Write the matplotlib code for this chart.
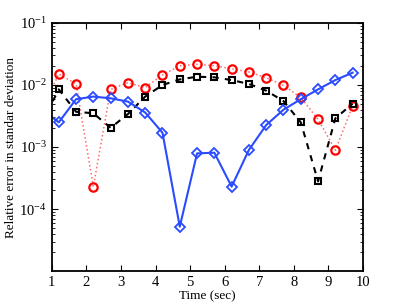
import numpy as np
import matplotlib
matplotlib.use("Agg")
import matplotlib.pyplot as plt

# data
time_sec = [0.7, 1.2, 1.7, 2.2, 2.7, 3.2, 3.7, 4.2, 4.7, 5.2,
            5.7, 6.2, 6.7, 7.2, 7.7, 8.2, 8.7, 9.2, 9.7]
err_blue = [4.1e-3, 2.5e-3, 5.9e-3, 6.5e-3, 6.1e-3, 5.4e-3, 3.6e-3, 1.7e-3, 5.2e-5, 7.9e-4,
            8.1e-4, 2.3e-4, 9.0e-4, 2.26e-3, 4.0e-3, 5.9e-3, 8.5e-3, 1.2e-2, 1.58e-2]
err_red = [4.0e-3, 1.5e-2, 1.04e-2, 2.3e-4, 8.5e-3, 1.09e-2, 9.1e-3, 1.45e-2, 2.04e-2, 2.15e-2,
           2.04e-2, 1.83e-2, 1.62e-2, 1.31e-2, 9.9e-3, 6.3e-3, 2.8e-3, 8.9e-4, 4.6e-3]
err_black = [2.4e-3, 8.5e-3, 3.7e-3, 3.5e-3, 2.04e-3, 3.4e-3, 6.5e-3, 1.0e-2, 1.23e-2, 1.36e-2,
             1.33e-2, 1.2e-2, 1.04e-2, 8.1e-3, 5.5e-3, 2.5e-3, 2.8e-4, 2.9e-3, 5.0e-3]
x_ticks = list(range(1, 11))

plt.rcParams['font.family'] = ['Liberation Serif', 'DejaVu Serif']
plt.rcParams['mathtext.fontset'] = 'stix'

fig = plt.figure(figsize=(4.02, 3.06), dpi=100)
ax = fig.add_axes([0.129, 0.114, 0.774, 0.811])

ax.plot(time_sec, err_red, color='#ff6a6a', linestyle=':', linewidth=1.1,
        marker='o', markersize=6, markerfacecolor='none', markeredgecolor='red',
        markeredgewidth=1.6)
ax.plot(time_sec, err_black, color='black', linestyle='--', linewidth=1.5, dashes=(3, 3),
        marker='s', markersize=5, markerfacecolor='none', markeredgewidth=1.5)
ax.plot(time_sec, err_blue, color='#2a4bff', linestyle='-', linewidth=1.5,
        marker='D', markersize=5, markerfacecolor='none', markeredgewidth=1.3)

ax.set_yscale('log')
ax.set_xlim(1, 10)
ax.set_ylim(1e-5, 1e-1)
ax.set_xticks(x_ticks)
ax.set_yticks([1e-4, 1e-3, 1e-2, 1e-1])
ax.tick_params(which='both', direction='in', top=True, right=True, labelsize=10.5)
ax.tick_params(which='major', length=4)
ax.tick_params(which='minor', length=2)
for s in ax.spines.values():
    s.set_linewidth(1.3)

ax.set_xlabel("Time (sec)", fontsize=9.5, labelpad=1)
ax.set_ylabel("Relative error in standar deviation", fontsize=9.5, labelpad=2)

fig.savefig("out.png", dpi=100)
